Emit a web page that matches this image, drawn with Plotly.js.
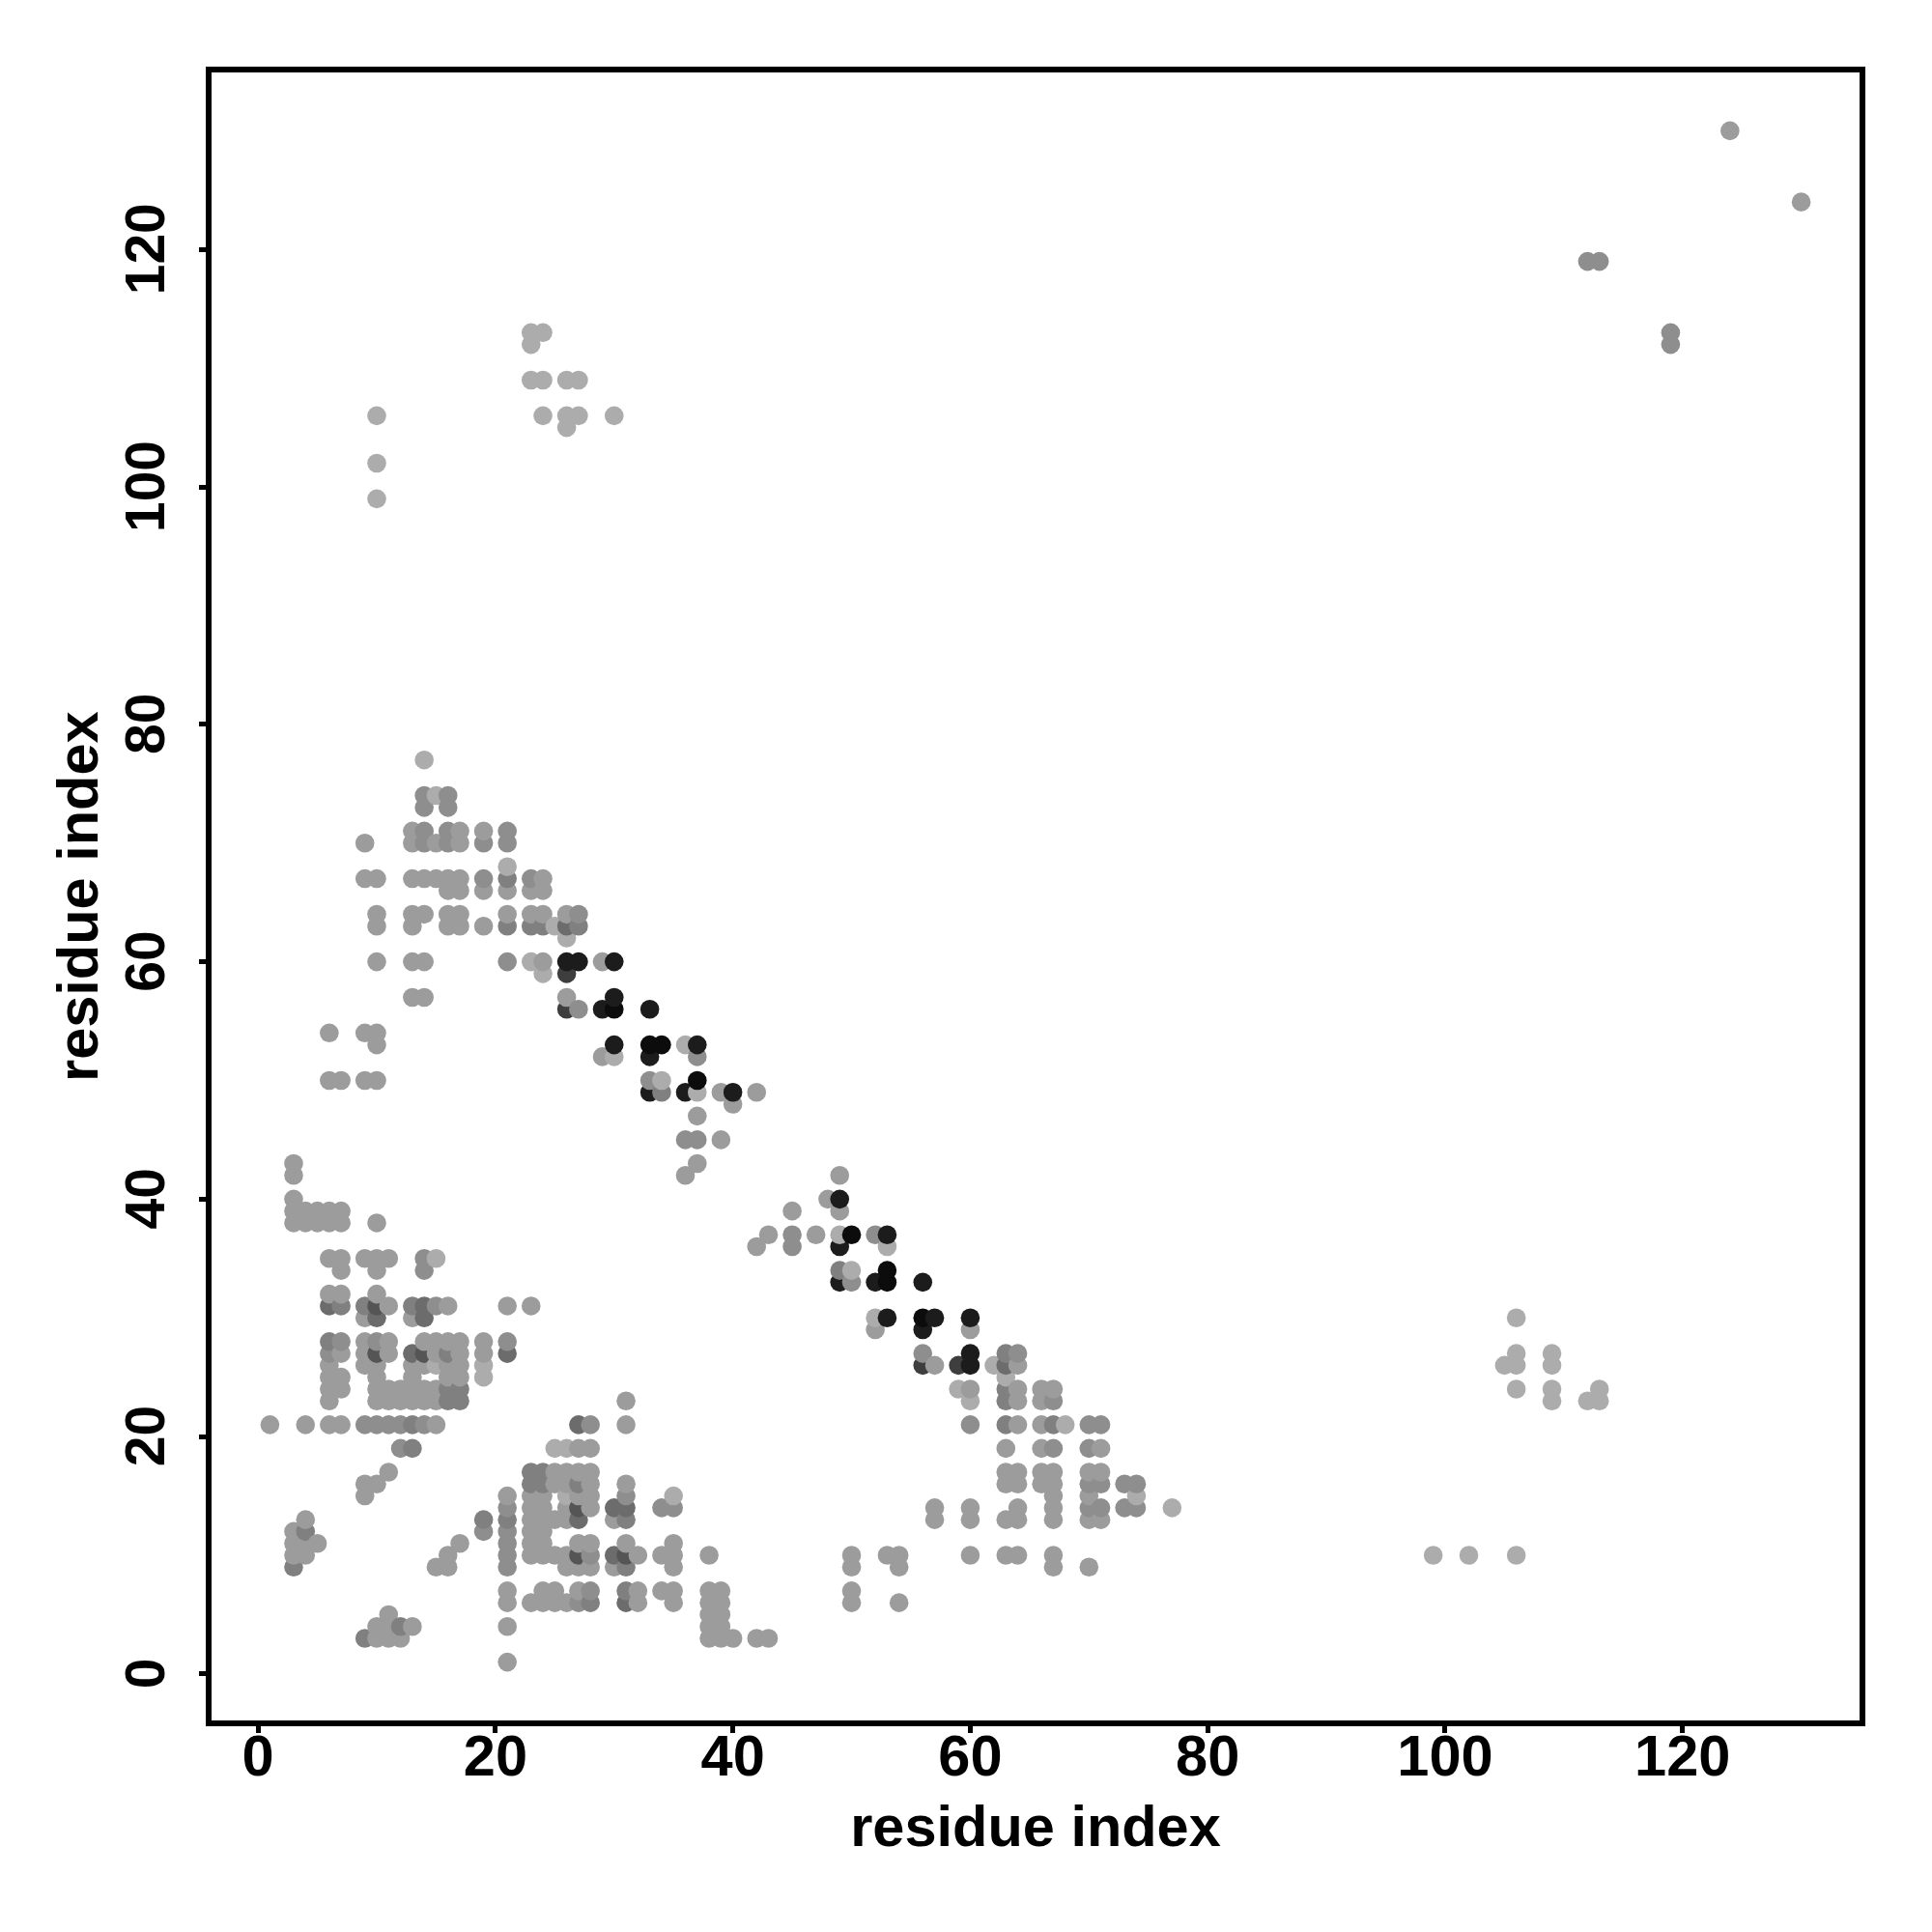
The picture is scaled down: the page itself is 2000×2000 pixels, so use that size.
<!DOCTYPE html>
<html>
<head>
<meta charset="utf-8">
<script src="https://cdn.plot.ly/plotly-3.0.1.min.js"></script>
<style>html,body{margin:0;padding:0;background:#fff}</style>
</head>
<body>
<div id="chart" style="width:2000px;height:2000px"></div>
<script>
// Residue pairs in contact (the map is symmetric; each pair is listed once)
const contactPairs = [
[3,43],[3,42],[3,40],[3,39],[4,39],[5,39],[6,39],[7,39],[3,38],[4,38],[5,38],[6,38],[7,38],[10,38],
[6,35],[7,35],[9,35],[10,35],[11,35],[14,35],[15,35],[7,34],[10,34],[14,34],[6,32],[7,32],[10,32],
[6,31],[7,31],[9,31],[10,31],[11,31],[13,31],[14,31],[15,31],[16,31],[21,31],[23,31],[9,30],[10,30],[13,30],[14,30],
[6,28],[7,28],[9,28],[10,28],[11,28],[14,28],[15,28],[16,28],[17,28],[19,28],[21,28],
[6,27],[7,27],[9,27],[10,27],[11,27],[13,27],[14,27],[15,27],[16,27],[17,27],[19,27],[21,27],
[6,26],[9,26],[10,26],[13,26],[14,26],[15,26],[16,26],[17,26],[19,26],
[6,25],[7,25],[10,25],[13,25],[16,25],[17,25],[19,25],
[6,24],[7,24],[10,24],[11,24],[12,24],[13,24],[14,24],[15,24],[16,24],[17,24],
[6,23],[10,23],[11,23],[12,23],[13,23],[14,23],[15,23],[16,23],[17,23],
[1,21],[4,21],[6,21],[7,21],[9,21],[10,21],[11,21],[12,21],[13,21],[14,21],[15,21],
[12,19],[13,19],[11,17],[9,16],[10,16],[9,15],[4,13],[3,12],[4,12],[3,11],[4,11],[5,11],[3,10],[4,10],[3,9],
[14,77],[14,74],[15,74],[16,74],[14,73],[16,73],
[13,71],[14,71],[16,71],[17,71],[19,71],[21,71],
[9,70],[13,70],[14,70],[15,70],[16,70],[17,70],[19,70],[21,70],[21,68],
[9,67],[10,67],[13,67],[14,67],[15,67],[16,67],[17,67],[19,67],[21,67],[23,67],[24,67],
[16,66],[17,66],[19,66],[21,66],[23,66],[24,66],
[10,64],[13,64],[14,64],[16,64],[17,64],[21,64],[23,64],[24,64],[26,64],[27,64],
[10,63],[13,63],[16,63],[17,63],[19,63],[21,63],[23,63],[24,63],[25,63],[26,63],[27,63],[26,62],
[10,60],[13,60],[14,60],[21,60],[23,60],[24,60],[26,60],[27,60],[29,60],[30,60],[24,59],[26,59],
[13,57],[14,57],[26,57],[30,57],[26,56],[27,56],[29,56],[30,56],[33,56],
[6,54],[9,54],[10,54],[10,53],[6,50],[7,50],[9,50],[10,50],
[30,53],[33,53],[34,53],[36,53],[37,53],[29,52],[30,52],[33,52],[37,52],[33,50],[34,50],[37,50],
[33,49],[34,49],[36,49],[37,49],[39,49],[40,49],[42,49],[40,48],[37,47],[36,45],[37,45],[39,45],[37,43],[36,42],
[10,99],[10,102],[10,106],[23,112],[23,113],[24,113],[23,109],[24,109],[26,109],[27,109],
[24,106],[26,106],[27,106],[30,106],[26,105],[112,119],[113,119],[124,130]
];

// Grey level of a pair; anything not listed has defaultGray
const defaultGray = 156;
const gray12 = [[30,56],[33,53],[34,53],[37,50]];
const gray28 = [[30,57],[30,53],[37,53],[33,52],[33,49],[36,49],[40,49],[29,56],[33,56],[26,60],[27,60],[30,60]];
const gray62 = [[26,59],[26,56]];
const gray85 = [[10,31],[14,27],[10,27]];
const gray108 = [[10,30],[14,31],[14,30],[13,27],[21,27],[26,63],[6,31]];
const gray128 = [[9,31],[7,31],[13,31],[16,27],[16,24],[17,24],[16,23],[17,23],[13,21],[13,19],[4,12],[3,9],[19,13],
  [21,67],[23,63],[24,63],[21,63],[34,49],[23,17],[24,17],[24,16],[27,63],[6,28],[27,16]];
const gray142 = [[14,34],[14,35],[21,28],[12,19],[14,74],[16,74],[14,71],[14,70],[16,71],[16,70],[19,70],[21,70],
  [23,67],[21,60],[33,50],[36,45],[37,45],[6,27],[10,28],[9,21],[10,21],[11,21],[12,21],[14,21],[15,31],[7,28],[14,73],
  [27,56],[23,16],[16,73],[19,67],[21,71],[112,119],[113,119],[27,64],[37,52]];
const gray172 = [[15,35],[15,26],[19,26],[19,25],[14,25],[14,77],[15,74],[23,60],[25,63],[24,59],[26,62],[30,52],[34,50],
  [37,49],[36,53],[10,99],[10,102],[10,106],[23,112],[23,113],[24,113],[23,109],[24,109],[26,109],[27,109],
  [24,106],[26,106],[27,106],[30,106],[26,105],[21,68],[26,15],[26,14],[26,16],[26,17],[26,19],[25,19]];

const grayGroups = [[12,gray12],[28,gray28],[62,gray62],[85,gray85],[108,gray108],[128,gray128],[142,gray142],[172,gray172]];
const xTicks = [0,20,40,60,80,100,120];
const yTicks = [0,20,40,60,80,100,120];
const axisRange = [-4.16,135.16];
const axisLabel = 'residue index';

const grayOf = new Map();
grayGroups.forEach(([g,list]) => list.forEach(([a,b]) => grayOf.set(a+'-'+b,g)));
let pts = [];
contactPairs.forEach(([a,b]) => {
  const g = grayOf.has(a+'-'+b) ? grayOf.get(a+'-'+b) : defaultGray;
  pts.push({x:a,y:b,g}); pts.push({x:b,y:a,g});
});
pts.sort((p,q) => p.x-q.x || p.y-q.y);

const fontBase = {family:'"Liberation Sans", Arial, sans-serif', size:59.5, color:'#000', weight:700};
const yTickFont = Object.assign({}, fontBase, {size:57});
const W = 2000, H = 2000;
const L = 216, R = 1928, T = 71.5, B = 1784;

Plotly.newPlot('chart',[{
  type:'scatter', mode:'markers',
  x:pts.map(p=>p.x), y:pts.map(p=>p.y),
  marker:{size:19.6, color:pts.map(p=>`rgb(${p.g},${p.g},${p.g})`), line:{width:0}},
  hoverinfo:'x+y'
}],{
  width:W, height:H, showlegend:false,
  paper_bgcolor:'#fff', plot_bgcolor:'#fff',
  margin:{l:L, r:W-R, t:T, b:H-B, pad:0, autoexpand:false},
  xaxis:{range:axisRange, tickmode:'array', tickvals:xTicks, ticktext:xTicks.map(String),
    showgrid:false, zeroline:false, showline:false, ticks:'outside', ticklen:9, tickwidth:5, tickcolor:'#000',
    tickfont:fontBase, automargin:false, ticklabelstandoff:-27, title:{text:axisLabel, font:fontBase, standoff:18}},
  yaxis:{range:axisRange, tickmode:'array', tickvals:yTicks, ticktext:yTicks.map(String), tickangle:-90,
    showgrid:false, zeroline:false, showline:false, ticks:'outside', ticklen:9, tickwidth:5, tickcolor:'#000',
    tickfont:yTickFont, automargin:false, ticklabelstandoff:13, ticklabelshift:8},
  annotations:[{text:axisLabel, font:fontBase, textangle:-90, showarrow:false, xref:'paper', yref:'paper',
    x:(80-L)/(R-L), y:0.5, xanchor:'center', yanchor:'middle'}],
  shapes:[{type:'rect', xref:'paper', yref:'paper', x0:0, x1:1, y0:0, y1:1, line:{color:'#000', width:6}, fillcolor:'rgba(0,0,0,0)', layer:'above'}]
},{displayModeBar:false, staticPlot:true});
</script>
</body>
</html>
